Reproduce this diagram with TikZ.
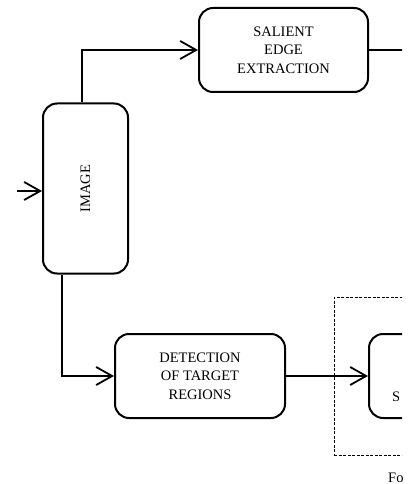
\documentclass[tikz,border=0pt]{standalone}
\usepackage{fontspec}
\setmainfont{Liberation Serif}
\usetikzlibrary{arrows.meta}
\begin{document}
\begin{tikzpicture}[x=1pt,y=-1pt,
  lbl/.style={font=\fontsize{14.5}{18.5}\selectfont},
  procbox/.style={draw, line width=2pt, rounded corners=14pt, inner sep=0pt, align=center, lbl},
  conn/.style={line width=1.8pt},
  arr/.style={conn, -{Straight Barb[length=16pt,width=18pt,line width=1.8pt]}},
  groupbox/.style={draw, line width=0.9pt, dash pattern=on 3pt off 1.5pt},
]
\useasboundingbox (0,0) rectangle (407,484);
\begin{scope}
\clip (0,0) rectangle (402,484);
\node[procbox, minimum width=85pt, minimum height=170pt] (image) at (85.5,188.5) {\rotatebox{90}{IMAGE}};
\node[procbox, minimum width=169pt, minimum height=84pt] (salient) at (283.5,50) {SALIENT\\EDGE\\EXTRACTION};
\node[procbox, minimum width=170pt, minimum height=84pt] (detect) at (200,376) {DETECTION\\OF TARGET\\REGIONS};
\node[groupbox, minimum width=160pt, minimum height=158pt, anchor=north west] (group) at (334,297) {};
\node[procbox, minimum width=170pt, minimum height=84pt, anchor=west] (seg) at (368,376) {};
\node[lbl, anchor=base west, inner sep=0pt] (segtext) at (392,401) {S};
\coordinate (in) at (17,191);
\coordinate (out) at (410,50);
\draw[arr] (in) -- (in -| image.west);
\draw[arr] ([xshift=-3.5pt]image.north) |- (salient.west);
\draw[arr] ([xshift=-23.5pt]image.south) |- (detect.west);
\draw[conn] (salient.east) -- (out);
\draw[arr] (detect.east) -- (seg.west);
\node[lbl, anchor=base west, inner sep=0pt] (caption) at (388,482) {Fo};
\end{scope}
\end{tikzpicture}
\end{document}
